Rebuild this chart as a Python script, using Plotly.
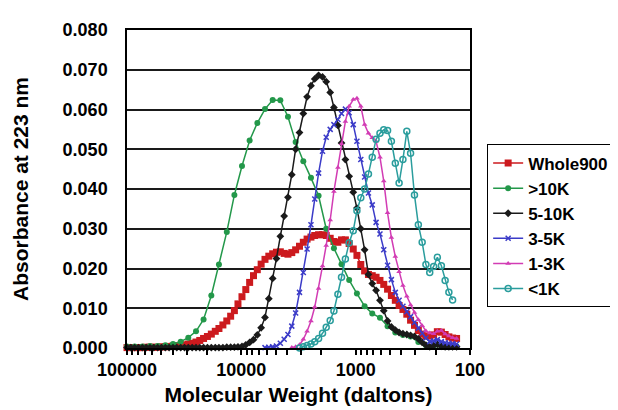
import plotly.graph_objects as go

# Molecular weight grid (daltons)
mw = [100000, 92600, 85700, 79300, 73400, 68000, 62900, 58300, 53900, 49900,
      46200, 42800, 39600, 36700, 33900, 31400, 29100, 26900, 24900, 23100,
      21400, 19800, 18300, 16900, 15700, 14500, 13400, 12400, 11500, 10700,
      9870, 9140, 8460, 7830, 7250, 6710, 6210, 5750, 5320, 4930,
      4560, 4220, 3910, 3620, 3350, 3100, 2870, 2660, 2460, 2280,
      2110, 1950, 1810, 1670, 1550, 1430, 1330, 1230, 1140, 1050,
      975, 902, 835, 773, 716, 663, 613, 568, 526, 487,
      450, 417, 386, 357, 331, 306, 283, 262, 243, 225,
      208, 193, 178, 165, 153, 142, 131]

mw_gt10k = [100000, 85700, 73400, 62900, 53900, 46200, 39600, 33900, 29100, 24900,
            21400, 18300, 15700, 13400, 11500, 9870, 8460, 7250, 6210, 5320,
            4560, 3910, 3350, 2870, 2460, 2110, 1810, 1550, 1330, 1140,
            975, 835, 716, 613, 526, 450, 386, 331, 283, 243,
            208, 178, 153, 131]

whole900 = [0.0001, 0.0001, 0.0001, 0.0001, 0.0001, 0.0002, 0.0002, 0.0002, 0.0002, 0.0003,
            0.0003, 0.0004, 0.0005, 0.0006, 0.0007, 0.0008, 0.0010, 0.0012, 0.0015, 0.0019,
            0.0024, 0.0029, 0.0035, 0.0042, 0.0049, 0.0058, 0.0068, 0.0080, 0.0094, 0.0111,
            0.0129, 0.0147, 0.0165, 0.0182, 0.0197, 0.0211, 0.0223, 0.0231, 0.0237, 0.0241,
            0.0242, 0.0238, 0.0236, 0.0240, 0.0247, 0.0256, 0.0266, 0.0274, 0.0279, 0.0283,
            0.0285, 0.0285, 0.0283, 0.0276, 0.0268, 0.0266, 0.0272, 0.0272, 0.0263, 0.0249,
            0.0233, 0.0210, 0.0194, 0.0185, 0.0182, 0.0178, 0.0170, 0.0160, 0.0148, 0.0132,
            0.0120, 0.0107, 0.0097, 0.0085, 0.0070, 0.0057, 0.0044, 0.0035, 0.0030, 0.0030,
            0.0033, 0.0041, 0.0040, 0.0034, 0.0028, 0.0025, 0.0024]

gt10k = [0.0004, 0.0004, 0.0004, 0.0005, 0.0005, 0.0007, 0.0010, 0.0016, 0.0026, 0.0042,
         0.0072, 0.0132, 0.0210, 0.0292, 0.0385, 0.0458, 0.0522, 0.0566, 0.0601, 0.0624,
         0.0623, 0.0582, 0.0518, 0.0470, 0.0428, 0.0383, 0.0300, 0.0251, 0.0211, 0.0171,
         0.0137, 0.0105, 0.0087, 0.0076, 0.0055, 0.0039, 0.0033, 0.0029, 0.0015, 0.0007,
         0.0005, 0.0004, 0.0004, 0.0004]

k5_10 = [0.0001, 0.0001, 0.0001, 0.0001, 0.0001, 0.0001, 0.0001, 0.0001, 0.0001, 0.0001,
         0.0001, 0.0001, 0.0001, 0.0001, 0.0001, 0.0001, 0.0001, 0.0001, 0.0001, 0.0001,
         0.0001, 0.0001, 0.0001, 0.0001, 0.0001, 0.0001, 0.0002, 0.0002, 0.0002, 0.0003,
         0.0004, 0.0008, 0.0014, 0.0021, 0.0033, 0.0051, 0.0077, 0.0124, 0.0175, 0.0225,
         0.0281, 0.0332, 0.0379, 0.0436, 0.0500, 0.0542, 0.0590, 0.0632, 0.0660, 0.0677,
         0.0686, 0.0682, 0.0670, 0.0643, 0.0605, 0.0560, 0.0516, 0.0474, 0.0432, 0.0392,
         0.0352, 0.0300, 0.0247, 0.0185, 0.0162, 0.0145, 0.0120, 0.0094, 0.0068, 0.0053,
         0.0045, 0.0039, 0.0036, 0.0034, 0.0032, 0.0029, 0.0023, 0.0014, 0.0007, 0.0003,
         0.0006, 0.0009, 0.0004, 0.0003, 0.0003, 0.0003, 0.0003]

k3_5 = [None] * 36 + [
         0.0001, 0.0002, 0.0003, 0.0005,
         0.0012, 0.0022, 0.0034, 0.0055, 0.0088, 0.0140, 0.0190, 0.0249, 0.0310, 0.0375,
         0.0440, 0.0495, 0.0530, 0.0550, 0.0562, 0.0575, 0.0590, 0.0601, 0.0592, 0.0562,
         0.0520, 0.0474, 0.0430, 0.0390, 0.0360, 0.0316, 0.0287, 0.0247, 0.0208, 0.0172,
         0.0140, 0.0120, 0.0105, 0.0091, 0.0079, 0.0064, 0.0050, 0.0037, 0.0025, 0.0016,
         0.0018, 0.0021, 0.0016, 0.0013, 0.0012, 0.0011, 0.0010]

k1_3 = [None] * 43 + [
         0.0001, 0.0003, 0.0008, 0.0022, 0.0042, 0.0068, 0.0103,
         0.0150, 0.0206, 0.0258, 0.0322, 0.0394, 0.0454, 0.0514, 0.0570, 0.0608, 0.0625,
         0.0628, 0.0608, 0.0562, 0.0540, 0.0529, 0.0520, 0.0480, 0.0420, 0.0340, 0.0278,
         0.0230, 0.0192, 0.0157, 0.0130, 0.0108, 0.0089, 0.0071, 0.0056, 0.0043, 0.0038,
         0.0036, 0.0042, 0.0044, 0.0035, 0.0030, 0.0026, 0.0024]

lt1k = [None] * 45 + [
         0.0000, 0.0003, 0.0006, 0.0010, 0.0016,
         0.0024, 0.0037, 0.0052, 0.0069, 0.0093, 0.0135, 0.0178, 0.0224, 0.0265, 0.0295,
         0.0345, 0.0378, 0.0400, 0.0438, 0.0480, 0.0525, 0.0540, 0.0549, 0.0547, 0.0520,
         0.0465, 0.0415, 0.0474, 0.0545, 0.0490, 0.0385, 0.0310, 0.0266, 0.0210, 0.0190,
         0.0205, 0.0228, 0.0207, 0.0170, 0.0140, 0.0121, None]

x_tick_vals = [100000, 10000, 1000, 100]
x_tick_text = ["100000", "10000", "1000", "100"]
minor_tick_vals = [m * d for d in (10000, 1000, 100) for m in range(2, 10)]

FONT = "Liberation Sans, Arial, Helvetica, sans-serif"

fig = go.Figure()

series = [
    ("Whole900", mw, whole900, "#CC1A1E", dict(symbol="square", size=7)),
    (">10K", mw_gt10k, gt10k, "#23984A", dict(symbol="circle", size=6)),
    ("5-10K", mw, k5_10, "#1A1A1A", dict(symbol="diamond", size=6)),
    ("3-5K", mw, k3_5, "#3B3BC8", dict(symbol="x-thin", size=5, line=dict(width=1.5, color="#3B3BC8"))),
    ("1-3K", mw, k1_3, "#D23CB4", dict(symbol="triangle-up", size=5)),
    ("<1K", mw, lt1k, "#2A9D9D", dict(symbol="circle-open", size=6, line=dict(width=1.5, color="#2A9D9D"))),
]

for name, xs, ys, color, mk in series:
    fig.add_trace(go.Scatter(
        x=xs, y=ys, name=name, mode="lines+markers",
        line=dict(color=color, width=1.5),
        marker=dict(color=color, **mk),
        cliponaxis=False,
    ))

fig.update_layout(
    width=618, height=410,
    margin=dict(l=117, r=143, t=19, b=70),
    paper_bgcolor="white", plot_bgcolor="white",
    font=dict(family=FONT, color="black"),
    showlegend=True,
    legend=dict(
        x=1.05, y=0.64, xanchor="left", yanchor="top",
        bordercolor="black", borderwidth=1, bgcolor="white",
        font=dict(family=FONT, size=17, weight="bold", color="black"),
        itemwidth=30, tracegroupgap=0,
    ),
)

fig.update_xaxes(
    type="log", range=[5, 2],
    tickmode="array", tickvals=x_tick_vals, ticktext=x_tick_text,
    ticks="outside", ticklen=5, tickwidth=1.5, tickcolor="black",
    showline=True, linecolor="black", linewidth=1.5, mirror=True,
    showgrid=False, zeroline=False,
    tickfont=dict(family=FONT, size=18, weight="bold", color="black"),
    title=dict(text="Molecular Weight (daltons)", standoff=8,
               font=dict(family=FONT, size=21, weight="bold", color="black")),
    minor=dict(tickmode="array", tickvals=minor_tick_vals, ticks="outside",
               ticklen=5, tickwidth=1.5, tickcolor="black", showgrid=False),
)

fig.update_yaxes(
    range=[0, 0.08], dtick=0.01, tick0=0, tickformat=".3f",
    showgrid=True, gridcolor="#1a1a1a", gridwidth=1.6,
    showline=True, linecolor="black", linewidth=1.5, mirror=True,
    ticks="", ticklabelstandoff=14, zeroline=False,
    tickfont=dict(family=FONT, size=18, weight="bold", color="black"),
    title=dict(text="Absorbance at 223 nm", standoff=28,
               font=dict(family=FONT, size=21, weight="bold", color="black")),
)

fig.write_html("out.html")
